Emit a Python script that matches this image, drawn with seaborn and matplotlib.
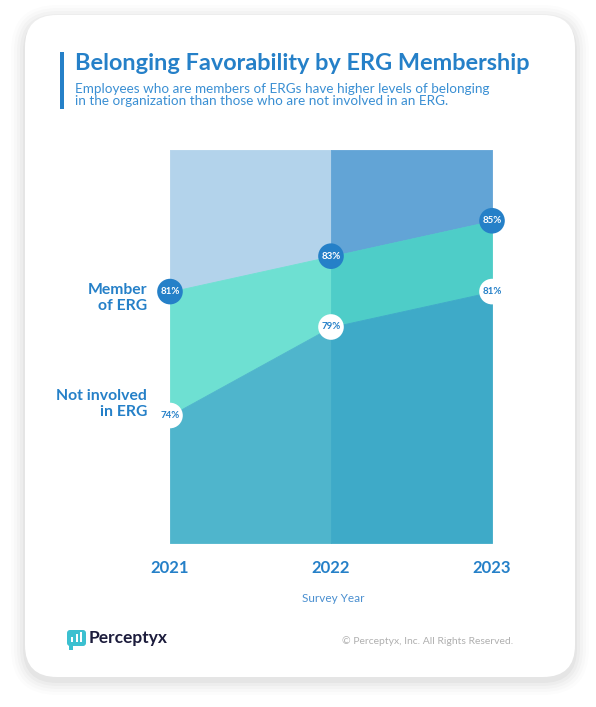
import matplotlib.pyplot as plt
from matplotlib.patches import FancyBboxPatch, Rectangle
import seaborn as sns
import pandas as pd

years = [2021, 2022, 2023]
member = [81, 83, 85]
not_involved = [74, 79, 81]
year_labels = ["2021", "2022", "2023"]

df = pd.DataFrame({"year": years, "member": member, "not_involved": not_involved})

sns.set_theme(style="white")
plt.rcParams["font.family"] = ["Lato", "DejaVu Sans"]

BLUE = "#2580c8"
fig = plt.figure(figsize=(5.96, 7.07), dpi=100)
fig.patch.set_facecolor("white")

# background card, drawn in pixel coords
bg = fig.add_axes([0, 0, 1, 1], zorder=-1)
bg.set_xlim(0, 596)
bg.set_ylim(707, 0)
bg.axis("off")
for i, a in enumerate([0.012, 0.015, 0.02, 0.025, 0.03]):
    g = 14 - i * 3
    bg.add_patch(FancyBboxPatch((25 - g, 15 - g + 4), 550 + 2 * g, 662 + 2 * g,
                                boxstyle="round,pad=0,rounding_size=%d" % (32 + g),
                                fc="#000000", ec="none", alpha=a))
bg.add_patch(FancyBboxPatch((25, 15), 550, 662, boxstyle="round,pad=0,rounding_size=32",
                            fc="white", ec="none"))
bg.add_patch(Rectangle((60, 52), 4, 57, fc=BLUE, ec="none"))
bg.text(75, 64, "Belonging Favorability by ERG Membership", fontsize=16.9,
        fontweight="bold", color=BLUE, va="center", ha="left")
bg.text(75, 95, "Employees who are members of ERGs have higher levels of belonging\n"
        "in the organization than those who are not involved in an ERG.",
        fontsize=9.7, color="#3a8fd3", va="center", ha="left", linespacing=0.95)
bg.text(147, 298, "Member\nof ERG", fontsize=11.3, fontweight="bold", color=BLUE,
        ha="right", va="center", linespacing=1.2)
bg.text(147, 404, "Not involved\nin ERG", fontsize=11.3, fontweight="bold", color=BLUE,
        ha="right", va="center", linespacing=1.2)
bg.text(333, 599, "Survey Year", fontsize=8.5, color="#4a8fd0", ha="center", va="center")
bg.text(513, 641, "\u00a9 Perceptyx, Inc. All Rights Reserved.", fontsize=7.5,
        color="#b0b0b0", ha="right", va="center")
# logo
bg.add_patch(FancyBboxPatch((67, 630), 19, 16, boxstyle="round,pad=0,rounding_size=3",
                            fc="#3cc0d0", ec="none"))
bg.add_patch(Rectangle((69, 644), 4, 6, fc="#3cc0d0", ec="none"))
for bx, bh in [(71, 5), (75.5, 8), (80, 10)]:
    bg.add_patch(Rectangle((bx, 642 - bh), 2.4, bh, fc="white", ec="none"))
bg.text(89, 638, "Perceptyx", fontsize=12.5, fontweight="bold", color="#1c1c3c",
        ha="left", va="center")

# chart
ax = fig.add_axes([0.2852, 0.2320, 0.5403, 0.5559])
ymin, ymax = 66.8, 89.0
left_cols = ["#b3d3eb", "#6ee0d2", "#4fb5cc"]
right_cols = ["#62a4d6", "#4ecdc8", "#3eaac8"]
for seg, cols in [(slice(0, 2), left_cols), (slice(1, 3), right_cols)]:
    x = years[seg]
    ax.fill_between(x, member[seg], ymax, color=cols[0], lw=0.6, ec=cols[0])
    ax.fill_between(x, not_involved[seg], member[seg], color=cols[1], lw=0.6, ec=cols[1])
    ax.fill_between(x, ymin, not_involved[seg], color=cols[2], lw=0.6, ec=cols[2])

sns.scatterplot(data=df, x="year", y="member", s=340, color=BLUE, edgecolor="none",
                ax=ax, clip_on=False, zorder=5)
sns.scatterplot(data=df, x="year", y="not_involved", s=340, color="white", edgecolor="none",
                ax=ax, clip_on=False, zorder=5)
for xv, m, n in zip(years, member, not_involved):
    ax.text(xv, m, f"{m}%", fontsize=7, fontweight="bold", color="white",
            ha="center", va="center", zorder=6)
    ax.text(xv, n, f"{n}%", fontsize=7, fontweight="bold", color=BLUE,
            ha="center", va="center", zorder=6)

ax.set_xlim(2021, 2023)
ax.set_ylim(ymin, ymax)
ax.set_xticks(years)
ax.set_xticklabels(year_labels, fontsize=12, fontweight="bold", color=BLUE)
ax.tick_params(axis="x", length=0, pad=12)
ax.set_yticks([])
ax.set_xlabel("")
ax.set_ylabel("")
for s in ax.spines.values():
    s.set_visible(False)

fig.savefig("out.png", dpi=100)
